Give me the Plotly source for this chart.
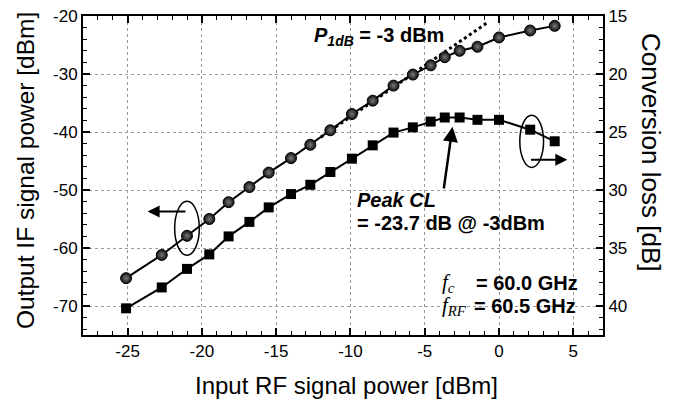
import plotly.graph_objects as go

# ---- data ----
rf_in = [-25.1, -22.7, -21.0, -19.5, -18.2, -16.8, -15.5, -14.0, -12.7, -11.35, -9.9,
         -8.5, -7.1, -5.8, -4.6, -3.65, -2.65, -1.45, 0.0, 2.1, 3.75]
if_out = [-65.2, -61.2, -57.9, -55.0, -52.1, -49.5, -47.0, -44.5, -42.2, -39.7, -36.9,
          -34.6, -32.0, -30.1, -28.5, -27.1, -26.0, -25.3, -23.7, -22.5, -21.7]
conv_loss = [40.2, 38.4, 36.8, 35.55, 34.0, 32.75, 31.5, 30.35, 29.55, 28.45, 27.3,
             26.15, 25.05, 24.6, 24.1, 23.75, 23.75, 23.95, 23.95, 24.8, 25.8]
# linear extrapolation (P1dB guide)
ext_x = [-12.0, -0.7]
ext_y = [-40.9, -21.0]

x_ticks = [-25, -20, -15, -10, -5, 0, 5]
yl_ticks = [-20, -30, -40, -50, -60, -70]
yr_ticks = [15, 20, 25, 30, 35, 40]

SANS = "Liberation Sans, Arial, sans-serif"
SERIF = "Liberation Serif, Times New Roman, serif"

fig = go.Figure()

fig.add_trace(go.Scatter(x=ext_x, y=ext_y, mode="lines",
                         line=dict(color="black", width=3, dash="dot"),
                         showlegend=False, hoverinfo="skip"))

fig.add_trace(go.Scatter(x=rf_in, y=if_out, mode="lines+markers",
                         line=dict(color="black", width=2),
                         marker=dict(symbol="circle", size=11, color="#111111",
                                     gradient=dict(type="radial", color="#7a7a7a"),
                                     line=dict(color="black", width=1)),
                         showlegend=False))

fig.add_trace(go.Scatter(x=rf_in, y=conv_loss, mode="lines+markers", yaxis="y2",
                         line=dict(color="black", width=2),
                         marker=dict(symbol="square", size=10, color="black",
                                     line=dict(color="black", width=0)),
                         showlegend=False))

axis_common = dict(showline=True, linewidth=2, linecolor="black", automargin=False,
                   ticks="inside", ticklen=7, tickwidth=1.5, tickcolor="black",
                   zeroline=False, tickfont=dict(family=SANS, size=17, color="black"))

fig.update_layout(
    width=678, height=403,
    margin=dict(l=83, r=75, t=16, b=68, autoexpand=False),
    paper_bgcolor="white", plot_bgcolor="white",
    xaxis=dict(range=[-28, 7], tickvals=x_ticks, ticktext=[str(v) for v in x_ticks],
               mirror="ticks", showgrid=True, gridcolor="#999999", griddash="dot", gridwidth=1,
               minor=dict(ticks="inside", dtick=1, tick0=0, ticklen=4, tickwidth=1, tickcolor="black"),
               **axis_common),
    yaxis=dict(range=[-75, -20], tickvals=yl_ticks, ticktext=[str(v) for v in yl_ticks],
               mirror=True, showgrid=True, gridcolor="#999999", griddash="dot", gridwidth=1,
               minor=dict(ticks="inside", dtick=2, tick0=0, ticklen=4, tickwidth=1, tickcolor="black"),
               **axis_common),
    yaxis2=dict(range=[42.5, 15], overlaying="y", side="right",
                tickvals=yr_ticks, ticktext=[str(v) for v in yr_ticks], showgrid=False,
                minor=dict(ticks="inside", dtick=1, tick0=0, ticklen=4, tickwidth=1, tickcolor="black"),
                **axis_common),
)

ann = []
# axis titles
ann.append(dict(text="Input RF signal power [dBm]", xref="paper", yref="paper",
                x=(346 - 83) / 520, y=(335 - 385) / 319, xanchor="center", yanchor="middle",
                showarrow=False, font=dict(family=SANS, size=24, color="black")))
ann.append(dict(text="Output IF signal power [dBm]", xref="paper", yref="paper",
                x=(25 - 83) / 520, y=(335 - 171) / 319, xanchor="center", yanchor="middle",
                textangle=-90, showarrow=False, font=dict(family=SANS, size=24.5, color="black")))
ann.append(dict(text="Conversion loss [dB]", xref="paper", yref="paper",
                x=(651 - 83) / 520, y=(335 - 152) / 319, xanchor="center", yanchor="middle",
                textangle=90, showarrow=False, font=dict(family=SANS, size=26, color="black")))

BOLD = dict(family=SANS, size=20, color="black")
ann.append(dict(text="<b><i>P</i><sub><i>1dB</i></sub> = -3 dBm</b>", x=-12.6, y=-23.6,
                xanchor="left", yanchor="middle", showarrow=False, font=BOLD))
ann.append(dict(text="<b><i>Peak CL</i></b>", x=-9.7, y=-51.7,
                xanchor="left", yanchor="middle", showarrow=False, font=BOLD))
ann.append(dict(text="<b>= -23.7 dB @ -3dBm</b>", x=-9.7, y=-55.7,
                xanchor="left", yanchor="middle", showarrow=False, font=BOLD))
ann.append(dict(text="<i>f</i><sub><i>c</i></sub>", x=-3.95, y=-66.1,
                xanchor="left", yanchor="middle", showarrow=False,
                font=dict(family=SERIF, size=21, color="black")))
ann.append(dict(text="<b>= 60.0 GHz</b>", x=-1.7, y=-66.1,
                xanchor="left", yanchor="middle", showarrow=False, font=BOLD))
ann.append(dict(text="<i>f</i><sub><i>RF</i></sub>", x=-3.95, y=-70.0,
                xanchor="left", yanchor="middle", showarrow=False,
                font=dict(family=SERIF, size=21, color="black")))
ann.append(dict(text="<b>= 60.5 GHz</b>", x=-1.8, y=-70.0,
                xanchor="left", yanchor="middle", showarrow=False, font=BOLD))

# arrows
ann.append(dict(x=-23.65, y=-53.7, ax=-21.0, ay=-53.7, axref="x", ayref="y",
                text="", showarrow=True, arrowhead=2, arrowsize=1.2, arrowwidth=2, arrowcolor="black"))
ann.append(dict(x=4.6, y=27.4, ax=2.05, ay=27.4, xref="x", yref="y2", axref="x", ayref="y2",
                text="", showarrow=True, arrowhead=2, arrowsize=1.2, arrowwidth=2, arrowcolor="black"))
ann.append(dict(x=-3.13, y=-39.1, ax=-3.73, ay=-50.0, axref="x", ayref="y",
                text="", showarrow=True, arrowhead=2, arrowsize=1.2, arrowwidth=2.5, arrowcolor="black"))
fig.update_layout(annotations=ann)

# ellipses marking which axis each curve uses
fig.add_shape(type="circle", xref="x", yref="y", x0=-21.0 - 0.83, x1=-21.0 + 0.83,
              y0=-56.6 - 4.65, y1=-56.6 + 4.65, line=dict(color="black", width=1.5))
fig.add_shape(type="circle", xref="x", yref="y2", x0=2.2 - 0.8, x1=2.2 + 0.8,
              y0=25.8 - 2.25, y1=25.8 + 2.25, line=dict(color="black", width=1.5))

fig.write_html("out.html", config={"displayModeBar": False},
               post_script="document.body.style.margin='0';document.body.style.overflow='hidden';")
